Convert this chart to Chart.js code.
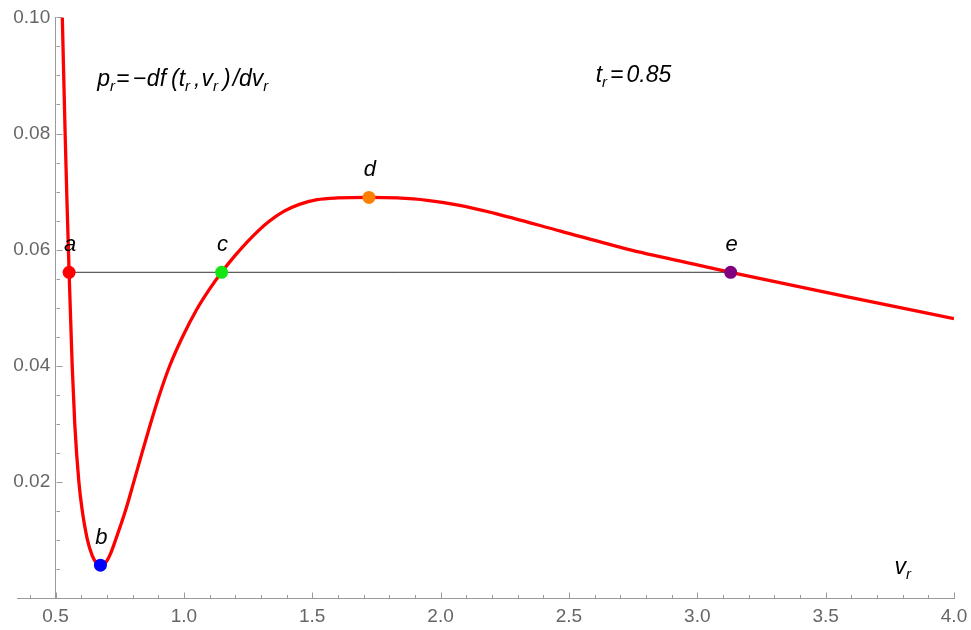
<!DOCTYPE html>
<html><head><meta charset="utf-8">
<script src="https://cdn.jsdelivr.net/npm/chart.js@4/dist/chart.umd.min.js"></script>
<style>html,body{margin:0;padding:0;background:#fff}#wrap{width:971px;height:630px}</style>
</head><body><div id="wrap"><canvas id="c" width="971" height="630"></canvas></div>
<script>
// curve p_r(v_r)
const curveX = [0.5265, 0.5375, 0.5445, 0.553, 0.565, 0.575, 0.591, 0.604, 0.6235, 0.643, 0.660, 0.675, 0.690, 0.700, 0.714, 0.734, 0.773, 0.805, 0.837, 0.870, 0.905, 0.945, 0.995, 1.050, 1.100, 1.147, 1.200, 1.266, 1.330, 1.389, 1.450, 1.519, 1.600, 1.721, 1.830, 1.948, 2.080, 2.207, 2.467, 2.727, 2.987, 3.130, 3.571, 4.000];
const curveY = [0.1000, 0.0800, 0.0685, 0.0561, 0.0400, 0.0300, 0.0200, 0.0151, 0.0102, 0.0073, 0.0060, 0.00565, 0.0059, 0.0064, 0.0076, 0.0100, 0.0151, 0.0200, 0.0250, 0.0300, 0.0350, 0.0400, 0.0450, 0.0497, 0.0532, 0.0561, 0.0590, 0.0622, 0.0648, 0.0666, 0.0678, 0.0686, 0.0689, 0.0690, 0.0689, 0.0685, 0.0676, 0.0663, 0.0632, 0.0601, 0.0575, 0.0561, 0.0520, 0.0481];
// marked points
const pointNames = ['a', 'b', 'c', 'd', 'e'];
const pointX = [0.553, 0.675, 1.147, 1.721, 3.130];
const pointY = [0.0561, 0.00565, 0.0561, 0.0690, 0.0561];
// horizontal line a–e
const tieX = [0.553, 3.130];
const tieY = [0.0561, 0.0561];
// ticks
const xTicks = [0.5, 1.0, 1.5, 2.0, 2.5, 3.0, 3.5, 4.0];
const yTicks = [0.02, 0.04, 0.06, 0.08, 0.10];
const xMinorStep = 0.1;
const yMinorStep = 0.005;

const FONT = '"Liberation Sans", Arial, sans-serif';
const AXIS_COLOR = '#9a9a9a';

const tickPlugin = {
  id: 'minorTicks',
  beforeDatasetsDraw(chart) {
    const ctx = chart.ctx, xs = chart.scales.x, ys = chart.scales.y;
    const x0 = Math.round(xs.getPixelForValue(0.5)) + 0.5, y0 = Math.round(ys.getPixelForValue(0)) + 0.5;
    ctx.save();
    ctx.strokeStyle = AXIS_COLOR; ctx.lineWidth = 1;
    ctx.beginPath();
    for (let i = Math.ceil(xs.min / xMinorStep); i * xMinorStep <= xs.max + 1e-9; i++) {
      const v = i * xMinorStep;
      const major = xTicks.some(t => Math.abs(t - v) < 1e-6);
      const px = Math.round(xs.getPixelForValue(v)) + 0.5;
      ctx.moveTo(px, y0); ctx.lineTo(px, y0 - (major ? 6 : 3.5));
    }
    for (let i = 1; i * yMinorStep <= ys.max + 1e-9; i++) {
      const v = i * yMinorStep;
      const major = yTicks.some(t => Math.abs(t - v) < 1e-6);
      const py = Math.round(ys.getPixelForValue(v)) + 0.5;
      ctx.moveTo(x0, py); ctx.lineTo(x0 + (major ? 6 : 3.5), py);
    }
    ctx.stroke();
    ctx.restore();
  }
};

// parts: [text, isSubscript, extraGapAfter]
function drawRich(ctx, parts, x, y, size, subSize) {
  let cx = x;
  for (const [t, sub, gap] of parts) {
    ctx.font = 'italic ' + (sub ? subSize : size) + 'px ' + FONT;
    ctx.fillText(t, cx, sub ? y + 5 : y);
    cx += ctx.measureText(t).width + (gap || 0);
  }
}

const textPlugin = {
  id: 'labels',
  afterDraw(chart) {
    const ctx = chart.ctx, xs = chart.scales.x, ys = chart.scales.y;
    ctx.save();
    ctx.fillStyle = '#000';
    ctx.textBaseline = 'alphabetic';
    const meta = chart.getDatasetMeta(2);
    ctx.textAlign = 'center';
    ctx.font = 'italic 22px ' + FONT;
    meta.data.forEach((el, i) => {
      ctx.fillText(pointNames[i], el.x + 1, el.y - 21);
    });
    ctx.textAlign = 'left';
    drawRich(ctx, [['p', false, 0], ['r', true, 1], ['=', false, 3], ['\u2212', false, 1], ['df', false, 5], ['(', false, 0], ['t', false, 0], ['r', true, 4], [',', false, 1], ['v', false, 0], ['r', true, 5], [')', false, 2], ['/', false, 0], ['dv', false, 0], ['r', true, 0]],
      xs.getPixelForValue(0.6625), ys.getPixelForValue(0.0881), 23, 15);
    drawRich(ctx, [['t', false, 0], ['r', true, 3], ['=', false, 3], ['0.85', false, 0]],
      xs.getPixelForValue(2.604), ys.getPixelForValue(0.0889), 23, 15);
    drawRich(ctx, [['v', false, 0], ['r', true, 0]],
      xs.getPixelForValue(3.768), ys.getPixelForValue(0.0041), 23, 15);
    ctx.restore();
  }
};

new Chart(document.getElementById('c'), {
  type: 'scatter',
  data: {
    datasets: [
      {
        data: curveX.map((x, i) => ({ x, y: curveY[i] })),
        showLine: true, borderColor: '#ff0000', borderWidth: 3.3,
        pointRadius: 0, cubicInterpolationMode: 'monotone', order: 3
      },
      {
        data: tieX.map((x, i) => ({ x, y: tieY[i] })),
        showLine: true, borderColor: '#333333', borderWidth: 1,
        pointRadius: 0, order: 2
      },
      {
        data: pointX.map((x, i) => ({ x, y: pointY[i] })),
        showLine: false, pointRadius: 6.5, pointBorderWidth: 0,
        pointBackgroundColor: ['#ff0000', '#0000ff', '#14e614', '#ff8000', '#800080'],
        order: 1
      }
    ]
  },
  options: {
    responsive: false, animation: false, devicePixelRatio: 1,
    layout: { padding: { left: 17, right: 17, top: 17, bottom: 0 } },
    plugins: { legend: { display: false }, tooltip: { enabled: false } },
    scales: {
      x: {
        type: 'linear', position: 'bottom', min: 0.35, max: 4.0,
        afterBuildTicks: s => { s.ticks = xTicks.map(v => ({ value: v })); },
        afterFit: s => { s.height = 32; s.paddingRight = 14; },
        ticks: { callback: v => Number(v).toFixed(1), color: '#666', font: { size: 19, family: FONT }, padding: 7, maxRotation: 0, autoSkip: false },
        grid: { display: true, drawOnChartArea: false, drawTicks: false },
        border: { display: true, color: AXIS_COLOR, width: 1 }
      },
      y: {
        type: 'linear', position: { x: 0.5 }, min: 0, max: 0.1,
        afterBuildTicks: s => { s.ticks = yTicks.map(v => ({ value: v })); },
        ticks: { callback: v => Number(v).toFixed(2) + ' ', color: '#666', font: { size: 19, family: FONT }, padding: 6, autoSkip: false },
        grid: { display: true, drawOnChartArea: false, drawTicks: false },
        border: { display: true, color: AXIS_COLOR, width: 1 }
      }
    }
  },
  plugins: [tickPlugin, textPlugin]
});
</script>
</body></html>
